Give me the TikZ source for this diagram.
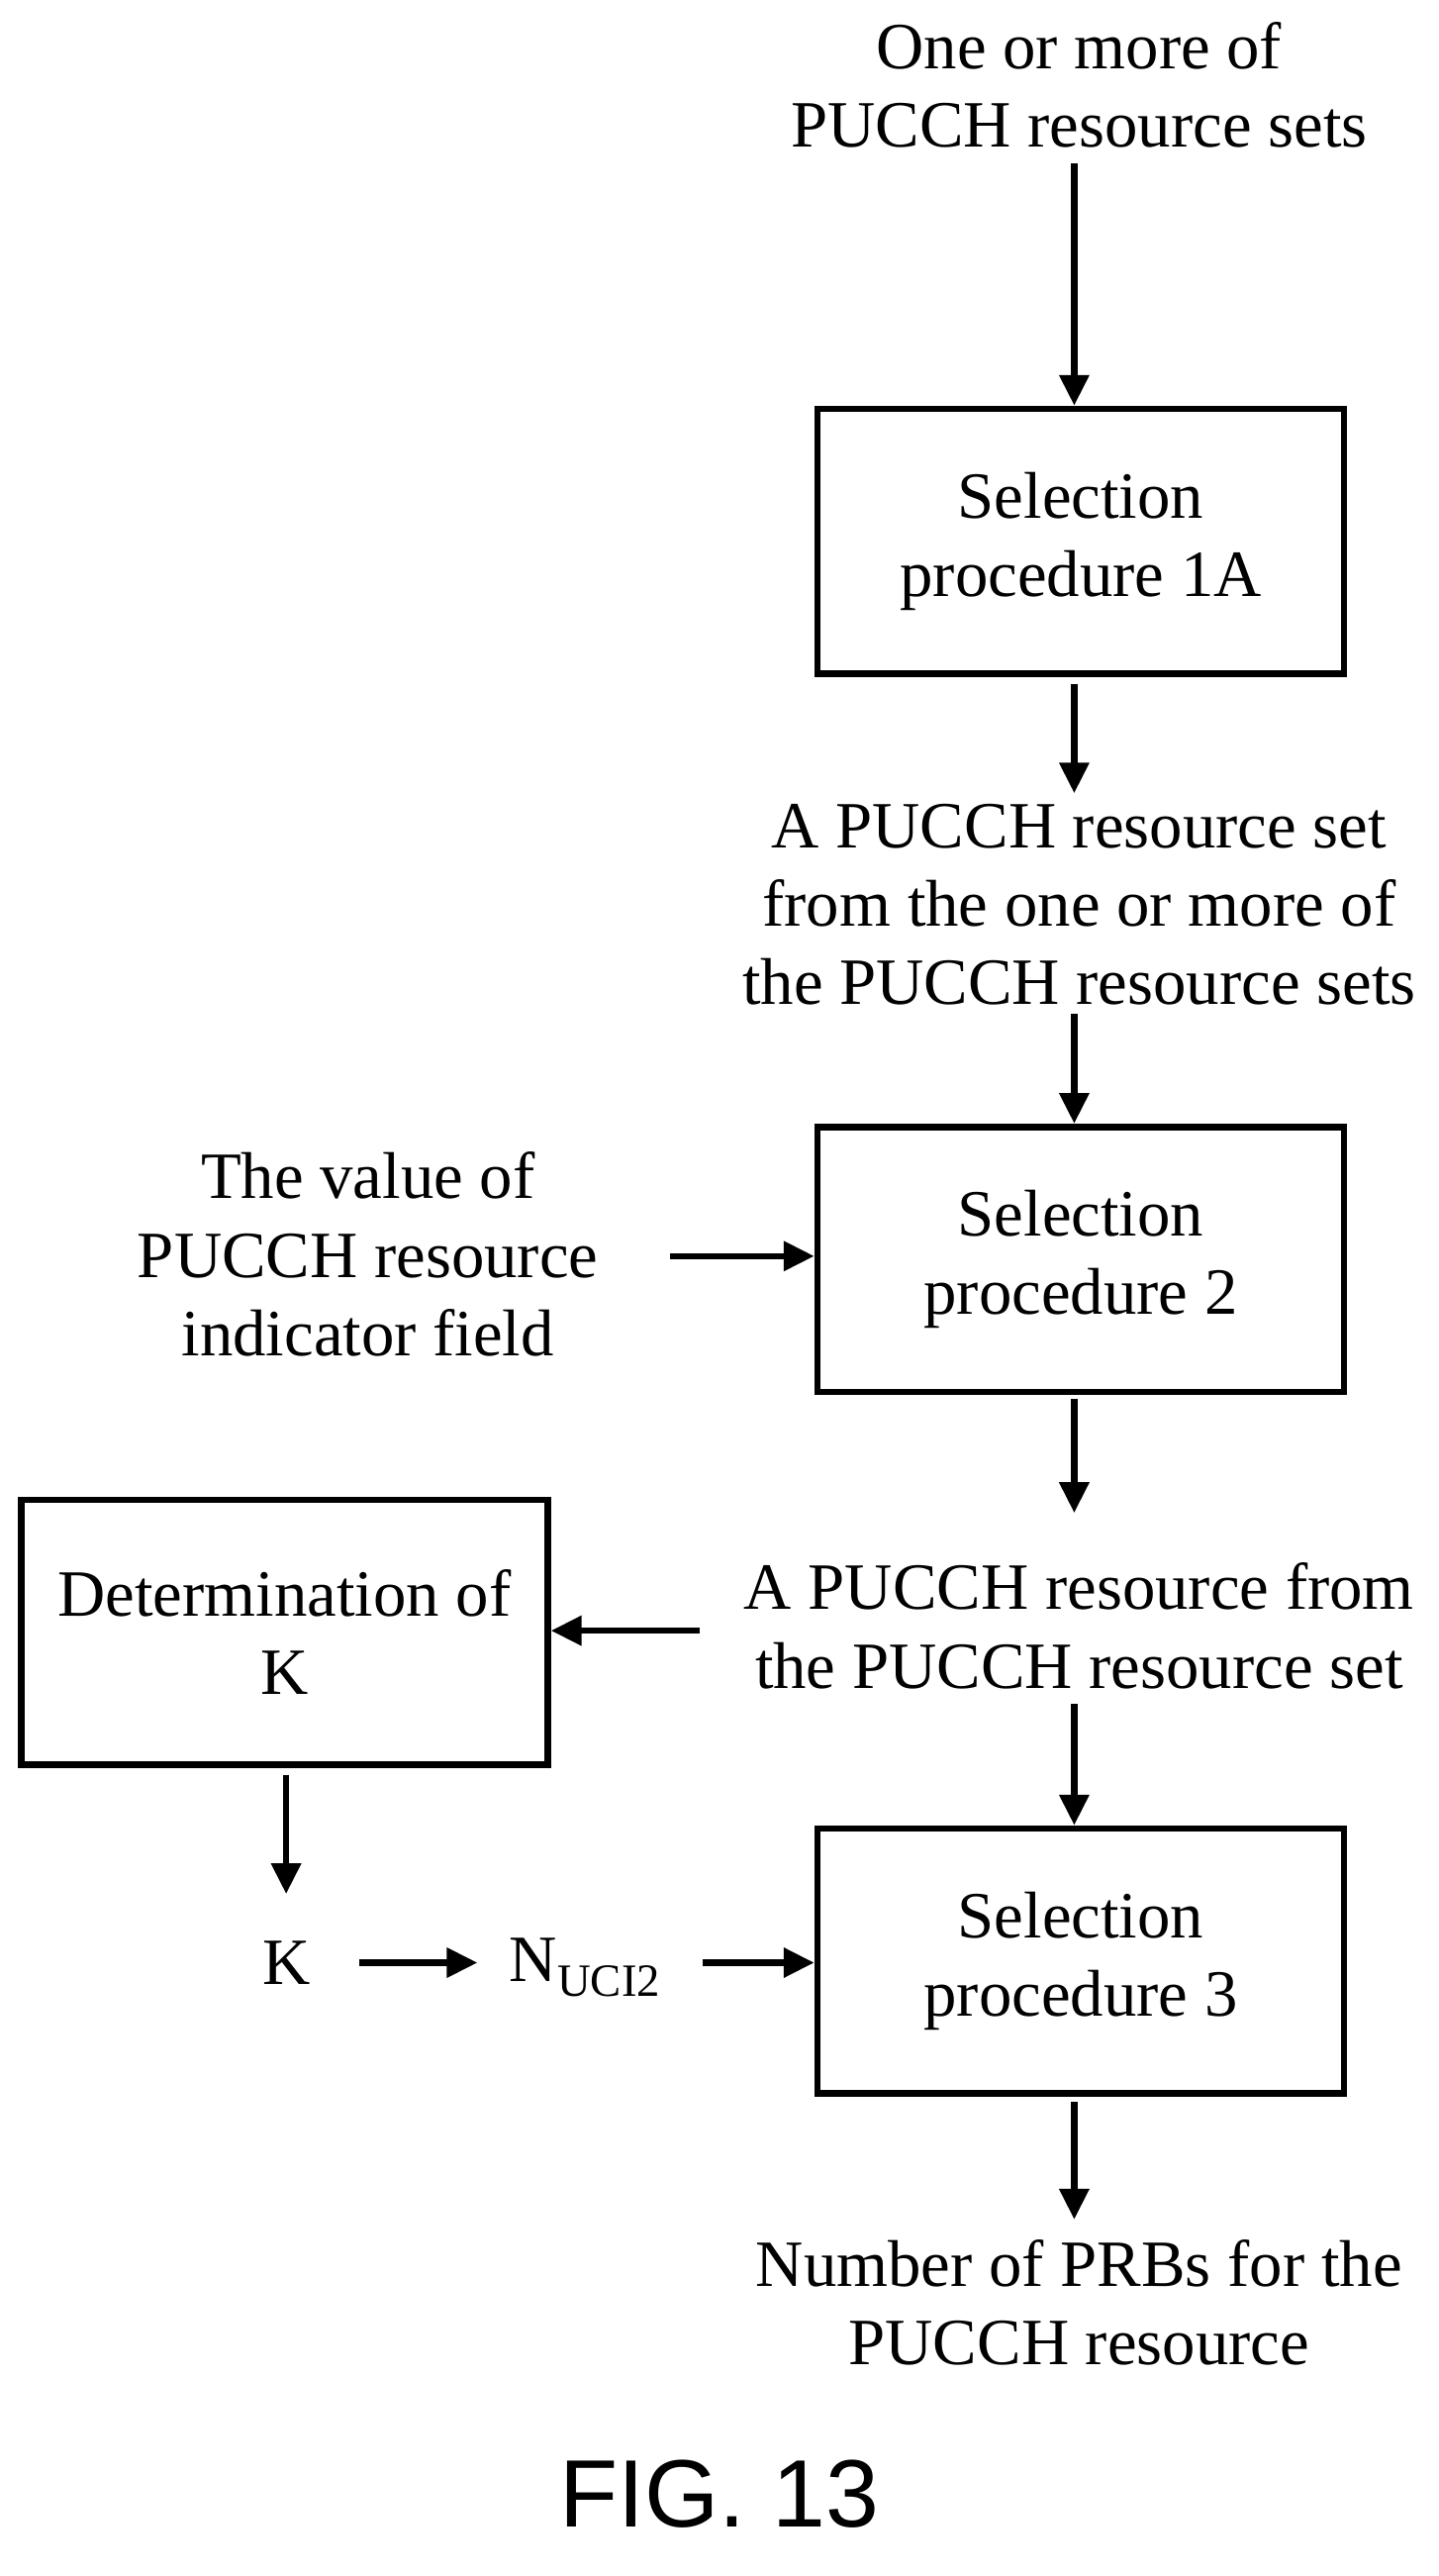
\documentclass[tikz,border=0pt]{standalone}
\usepackage{fontspec}
\setmainfont{Liberation Serif}
\newfontfamily\figfont{Liberation Sans}
\usetikzlibrary{arrows.meta}
\begin{document}
\begin{tikzpicture}[x=0.03cm,y=-0.03cm,
  box/.style={draw,line width=3.4pt,minimum width=9.66cm,minimum height=4.86cm,align=center,inner sep=0pt},
  txt/.style={align=center,inner sep=0pt},
  arr/.style={line width=3.4pt,-{Triangle[length=16pt,width=15pt]}},
  every node/.style={font=\fontsize{34.5}{41}\selectfont}]
\useasboundingbox (0,0) rectangle (880,1575);
\node[txt] (t1) at (660,52) {One or more of\\PUCCH resource sets};
\node[box] (b1) at (661,331) {Selection\\procedure 1A};
\node[txt] (t2) at (660,553) {A PUCCH resource set\\from the one or more of\\the PUCCH resource sets};
\node[box] (b2) at (661,770) {Selection\\procedure 2};
\node[txt] (t3) at (225,767) {The value of\\PUCCH resource\\indicator field};
\node[txt] (t4) at (660,994) {A PUCCH resource from\\the PUCCH resource set};
\node[box] (bk) at (174,998) {Determination of\\K};
\node[box] (b3) at (661,1199) {Selection\\procedure 3};
\node[txt] (k) at (175,1200) {K};
\node[txt] (n) at (358,1203) {N\textsubscript{UCI2}};
\node[txt] (t5) at (660,1408) {Number of PRBs for the\\PUCCH resource};
\node[txt,font=\figfont\fontsize{50}{60}\selectfont] (fig) at (440,1525) {FIG. 13};
\coordinate (a1) at (657,100);
\draw[arr] (a1) -- (b1.north -| a1);
\coordinate (a2) at (657,418);
\draw[arr] (a2) -- (657,485);
\coordinate (a3) at (657,620);
\draw[arr] (a3) -- (b2.north -| a3);
\coordinate (a4) at (410,768);
\draw[arr] (a4) -- (b2.west |- a4);
\coordinate (a5) at (657,855);
\draw[arr] (a5) -- (657,925);
\coordinate (a6) at (428,997);
\draw[arr] (a6) -- (bk.east |- a6);
\coordinate (a7) at (657,1042);
\draw[arr] (a7) -- (b3.north -| a7);
\coordinate (a8) at (175,1085);
\draw[arr] (a8) -- (175,1158);
\coordinate (a9) at (220,1200);
\draw[arr] (a9) -- (292,1200);
\coordinate (a10) at (430,1200);
\draw[arr] (a10) -- (b3.west |- a10);
\coordinate (a11) at (657,1285);
\draw[arr] (a11) -- (657,1357);
\end{tikzpicture}
\end{document}
